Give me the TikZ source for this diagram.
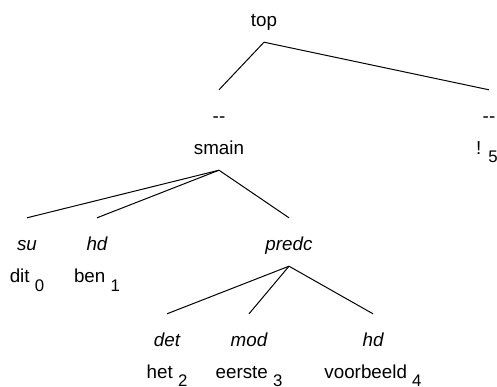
\documentclass[tikz,border=0pt]{standalone}
\usepackage{fontspec}
\setmainfont{Liberation Sans}
\usetikzlibrary{positioning}
\newcommand{\wsub}[2]{#1 \raisebox{-8.5pt}{\fontsize{16.8pt}{17pt}\selectfont #2}}
\newcommand{\nodash}{\mbox{-}\mbox{-}}
\tikzset{
  cat/.style={inner sep=0pt, anchor=base, text height=32pt, text depth=16pt,
    font=\fontsize{18.8pt}{22pt}\selectfont},
  rel/.style={cat, font=\fontsize{18.8pt}{22pt}\selectfont\itshape},
  edge/.style={line width=1pt}
}
\begin{document}
\begin{tikzpicture}[x=1pt,y=-1pt]
\useasboundingbox (0,0) rectangle (497,386);

% wortel
\node[cat] (top) at (264,26) {top};

% eerste niveau
\node[cat] (d1) at (219,122) {\nodash};
\node[cat, below=32pt of d1.base, anchor=base] (smain) {smain};
\node[cat] (d2) at (489,122) {\nodash};
\node[cat, below=32pt of d2.base, anchor=base, xshift=-2pt] (excl) {\wsub{!}{5}};

% onder smain
\node[rel] (su) at (27,250) {su};
\node[cat, below=32.7pt of su.base, anchor=base] (dit) {\wsub{dit}{0}};
\node[rel] (hd1) at (97,250) {hd};
\node[cat, below=32.7pt of hd1.base, anchor=base] (ben) {\wsub{ben}{1}};
\node[rel] (predc) at (289,250) {predc};

% onder predc
\node[rel] (det) at (167,346) {det};
\node[cat, below=32pt of det.base, anchor=base] (het) {\wsub{het}{2}};
\node[rel] (mod) at (249,346) {mod};
\node[cat, below=32pt of mod.base, anchor=base] (eerste) {\wsub{eerste}{3}};
\node[rel] (hd2) at (373,346) {hd};
\node[cat, below=32pt of hd2.base, anchor=base] (voorbeeld) {\wsub{voorbeeld}{4}};

% takken
\draw[edge] (top.south) -- (d1.north);
\draw[edge] (top.south) -- (d2.north);
\draw[edge] (smain.south) -- (su.north);
\draw[edge] (smain.south) -- (hd1.north);
\draw[edge] (smain.south) -- (predc.north);
\draw[edge] (predc.south) -- (det.north);
\draw[edge] (predc.south) -- (mod.north);
\draw[edge] (predc.south) -- (hd2.north);

\end{tikzpicture}
\end{document}
